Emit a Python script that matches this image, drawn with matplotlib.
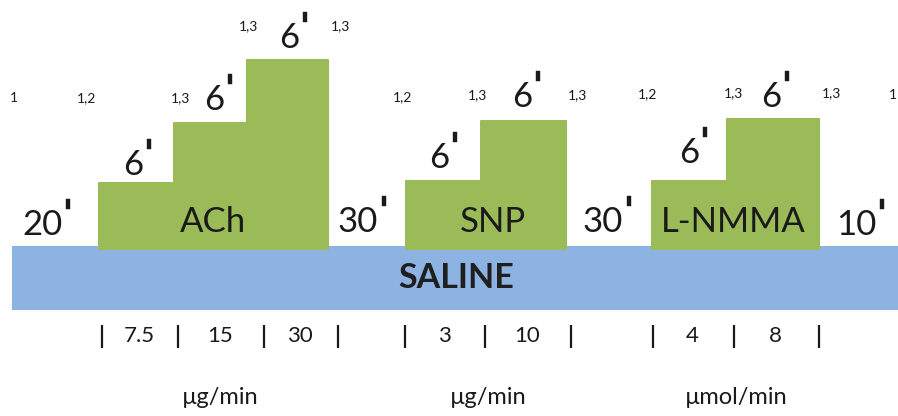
import matplotlib.pyplot as plt
from matplotlib.patches import Polygon, Rectangle

# ===== DATA =====
drugs = ["ACh", "SNP", "L-NMMA"]
doses = [["7.5", "15", "30"], ["3", "10"], ["4", "8"]]
units = ["µg/min", "µg/min", "µmol/min"]
washout_min = ["20", "30", "30", "10"]
step_min = "6"
saline_label = "SALINE"
footnotes = ["1", "1,2", "1,3", "1,3", "1,3", "1,2", "1,3", "1,3", "1,2", "1,3", "1,3", "1"]

# ===== LAYOUT (pixel space, y grows downwards) =====
GREEN = "#9BBB59"
BLUE = "#8DB3E2"
INK = "#1a1a1a"
FONT = "Lato"
BIG = 25

step_edges = [[99, 174, 247, 328], [406, 481, 566], [652, 727, 819]]
step_tops = [[183, 123, 60], [181, 121], [181, 119]]
block_base = 249
saline_box = (12, 246, 898, 309)          # x0, y0, x1, y1
drug_label_xy = [(213, 232), (493, 232), (733, 232)]
step_label_xy = [[(133, 175), (214, 110), (289, 48)],
                 [(439, 168), (522, 107)],
                 [(689, 163), (771, 107)]]
washout_xy = [(42, 235), (358, 232), (603, 232), (856, 235)]
foot_xy = [(14, 98), (87, 98), (180, 98), (248, 26), (340, 26), (403, 97),
           (477, 95), (577, 95), (648, 94), (733, 93), (831, 93), (893, 95)]
tick_x = [[102, 178, 264, 338], [405, 485, 571], [653, 734, 819]]
tick_top, tick_bot = 325, 348
dose_y = 336
unit_y = 404

fig = plt.figure(figsize=(8.98, 4.16), dpi=100)
ax = fig.add_axes([0, 0, 1, 1])
ax.set_xlim(0, 898)
ax.set_ylim(416, 0)
ax.axis("off")

primed_texts = []


def primed(x, y, s, size=BIG):
    t = ax.text(x, y, s, ha="center", va="baseline", fontsize=size,
                family=FONT, color=INK, zorder=5)
    primed_texts.append((t, y, size))
    return t


# saline band
x0, y0, x1, y1 = saline_box
ax.add_patch(Rectangle((x0, y0), x1 - x0, y1 - y0, facecolor=BLUE,
                       edgecolor=BLUE, lw=0.8, joinstyle="round"))
ax.text(456, (y0 + y1) / 2 + 1, saline_label, ha="center",
        va="center", fontsize=24.5, fontweight="bold", family=FONT,
        color="#1f1f1f")

# drug step blocks
for i, name in enumerate(drugs):
    edges = step_edges[i]
    tops = step_tops[i]
    pts = [(edges[0], block_base)]
    for k, top in enumerate(tops):
        pts.append((edges[k], top))
        pts.append((edges[k + 1], top))
    pts.append((edges[-1], block_base))
    ax.add_patch(Polygon(pts, closed=True, facecolor=GREEN, edgecolor=GREEN,
                         lw=1.5, joinstyle="round", zorder=3))
    lx, ly = drug_label_xy[i]
    ax.text(lx, ly, name, ha="center", va="baseline", fontsize=BIG,
            family=FONT, color=INK, zorder=4)
    for sx, sy in step_label_xy[i]:
        primed(sx, sy, step_min)

    # dose ticks and values
    tx = tick_x[i]
    ax.vlines(tx, tick_top, tick_bot, colors=INK, lw=1.6)
    for k, d in enumerate(doses[i]):
        ax.text((tx[k] + tx[k + 1]) / 2 - 1, dose_y, d, ha="center",
                va="center", fontsize=16, family=FONT, color=INK)
    ax.text((tx[0] + tx[-1]) / 2, unit_y, units[i], ha="center",
            va="baseline", fontsize=17, family=FONT, color=INK)

# washout periods
for (x, y), w in zip(washout_xy, washout_min):
    primed(x, y, w)

# footnote marks
for (x, y), f in zip(foot_xy, footnotes):
    ax.text(x, y, f, ha="center", va="center", fontsize=10, family=FONT,
            color=INK)

# prime marks: short thick bars at the top right of each number
fig.canvas.draw()
renderer = fig.canvas.get_renderer()
inv = ax.transData.inverted()
for t, base, size in primed_texts:
    bb = t.get_window_extent(renderer)
    xr = inv.transform((bb.x1, bb.y0))[0]
    cap = size * 100 / 72 * 0.72
    ax.add_patch(Rectangle((xr + 4, base - cap - 11), 3.5, 10,
                           facecolor=INK, edgecolor=INK, lw=0.3, zorder=5))

fig.savefig("out.png", dpi=100)
